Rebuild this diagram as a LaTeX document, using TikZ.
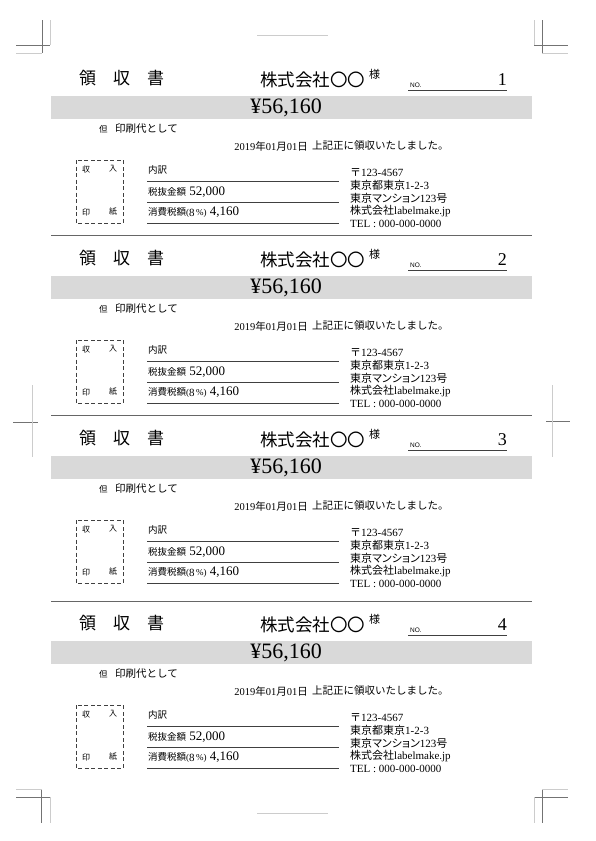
\documentclass[tikz,border=0pt]{standalone}
\usepackage{fontspec}
\setmainfont{Liberation Serif}
\setsansfont{Liberation Sans}
\newfontfamily\jp{Noto Sans CJK JP}
\newfontfamily\jpp[RawFeature=+palt]{Noto Sans CJK JP}

\tikzset{
	txt/.style={anchor=west, inner sep=0pt},
	tombo dark/.style={draw=black!55, line width=0.6pt},
	tombo light/.style={draw=black!20, line width=0.9pt},
	rule/.style={draw=black!75, line width=0.8pt},
	sepline/.style={draw=black!60, line width=1pt},
	stampbox/.style={draw=black!75, line width=0.8pt, dash pattern=on 4pt off 2.5pt}
}

\begin{document}
\begin{tikzpicture}[x=1pt, y=-1pt]
{
	\useasboundingbox (0,0) rectangle (595,841);
	% crop marks
	\draw[tombo dark] (42,20) -- (42,53) (16,45) -- (50,45);
	\draw[tombo light] (50,20) -- (50,45) (16,53) -- (42,53);
	\draw[tombo dark] (542,20) -- (542,53) (534,45) -- (568,45);
	\draw[tombo light] (534,20) -- (534,45) (542,53) -- (568,53);
	\draw[tombo dark] (41,789) -- (41,823) (16,797) -- (50,797);
	\draw[tombo light] (16,789) -- (42,789) (50,797) -- (50,823);
	\draw[tombo dark] (542,789) -- (542,823) (534,797) -- (568,797);
	\draw[tombo light] (542,789) -- (568,789) (534,797) -- (534,823);
	\draw[tombo light] (257,35) -- (328,35) (257,813) -- (328,813);
	\draw[tombo dark] (13,422) -- (38,422) (546,421) -- (570,421);
	\draw[tombo light] (32,385) -- (32,457) (552,385) -- (552,457);
	% receipts
	\foreach \dy/\num in {0/1, 180/2, 360/3, 545/4}
	{
		\begin{scope}[shift={(0,\dy)}]
			\node[txt, font=\jp\fontsize{17}{18}\selectfont] (title\num) at (79,78) {領　収　書};
			\node[txt, font=\jp\fontsize{17.5}{18}\selectfont] (client\num) at (260,80) {株式会社〇〇};
			\node[txt, font=\jp\fontsize{11}{12}\selectfont] (sama\num) at (369,74) {様};
			\node[txt, font=\sffamily\fontsize{6.5}{7}\selectfont] (no\num) at (410,85) {NO.};
			\node[anchor=east, inner sep=0pt, font=\fontsize{18}{18}\selectfont] (num\num) at (507,80) {\num};
			\draw[rule] (408,90) -- (507,90);
			\fill[black!15] (51,96) rectangle (532,119);
			\node[inner sep=0pt, font=\fontsize{22}{22}\selectfont] (amount\num) at (286,108) {¥56,160};
			\node[txt, font=\jp\fontsize{8.5}{9}\selectfont] (tada\num) at (99,129) {但};
			\node[txt, font=\jp\fontsize{10.5}{12}\selectfont] (memo\num) at (115,129) {印刷代として};
			\node[anchor=east, inner sep=0pt, font=\fontsize{10.5}{12}\selectfont] (date\num) at (308,146) {2019{\jp 年}01{\jp 月}01{\jp 日}};
			\node[txt, font=\jp\fontsize{10.5}{12}\selectfont] (recv\num) at (312,146) {上記正に領収いたしました。};
			% revenue stamp
			\draw[stampbox] (76,160) rectangle (123,223);
			\node[inner sep=0pt, font=\jp\fontsize{8}{8}\selectfont] (shu\num) at (86,169) {収};
			\node[inner sep=0pt, font=\jp\fontsize{8}{8}\selectfont] (nyu\num) at (113,169) {入};
			\node[inner sep=0pt, font=\jp\fontsize{8}{8}\selectfont] (in\num) at (86,212) {印};
			\node[inner sep=0pt, font=\jp\fontsize{8}{8}\selectfont] (shi\num) at (113,212) {紙};
			% breakdown
			\node[txt, font=\jp\fontsize{9.5}{10}\selectfont] (uchi\num) at (148,170) {内訳};
			\draw[rule] (147,181) -- (339,181);
			\node[txt, font=\fontsize{13}{14}\selectfont] (net\num) at (148,192) {{\jp\fontsize{9.5}{10}\selectfont 税抜金額}\ 52,000};
			\draw[rule] (147,202) -- (339,202);
			\node[txt, font=\fontsize{13}{14}\selectfont] (tax\num) at (148,212) {{\jp\fontsize{9.5}{10}\selectfont 消費税額}{\fontsize{9}{10}\selectfont(}\raisebox{-1.5pt}{\fontsize{11}{11}\selectfont 8}{\fontsize{9}{10}\selectfont\,\%)}\ 4,160};
			\draw[rule] (147,223) -- (339,223);
			% issuer
			\node[txt, font=\fontsize{11}{12}\selectfont] (zip\num) at (350,173) {{\jp 〒}123-4567};
			\node[txt, font=\fontsize{11}{12}\selectfont] (addr\num) at (350,185) {{\jp 東京都東京}1-2-3};
			\node[txt, font=\fontsize{11}{12}\selectfont] (bldg\num) at (350,198) {{\jpp 東京マンション}123{\jp 号}};
			\node[txt, font=\fontsize{11}{12}\selectfont] (firm\num) at (350,211) {{\jp 株式会社}labelmake.jp};
			\node[txt, font=\fontsize{11}{12}\selectfont] (tel\num) at (350,224) {TEL : 000-000-0000};
		\end{scope}
	}
	\foreach \y in {235, 415, 601}
		\draw[sepline] (51,\y) -- (532,\y);
}
\end{tikzpicture}
\end{document}
